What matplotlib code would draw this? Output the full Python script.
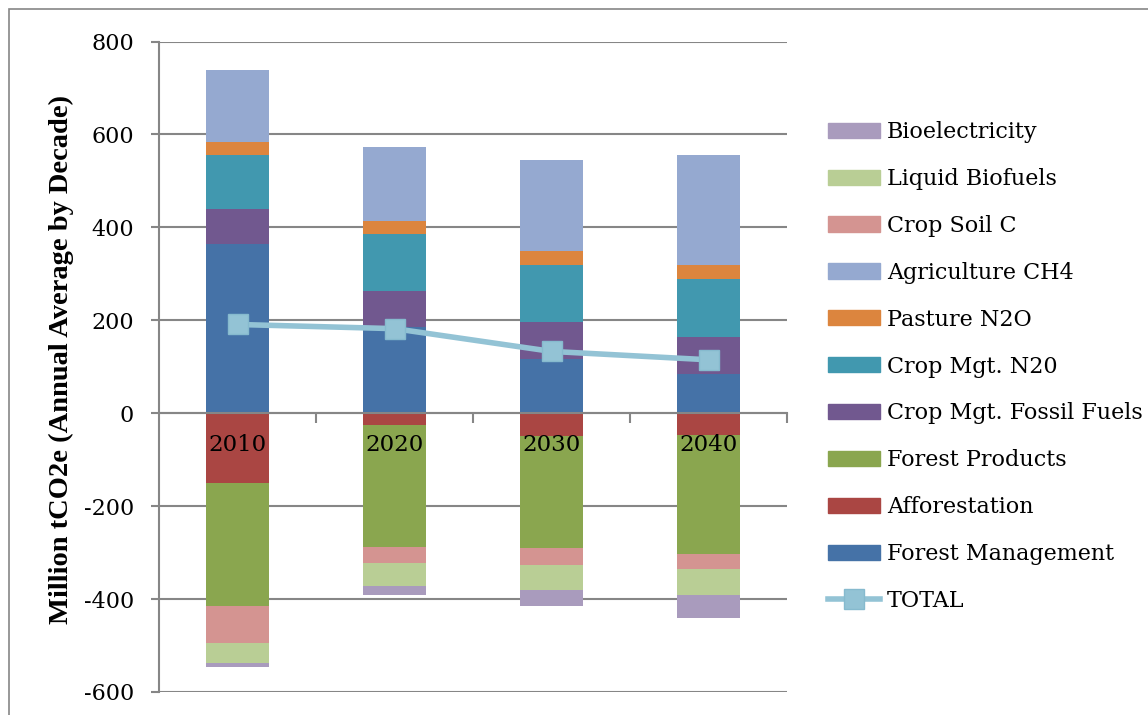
import matplotlib
matplotlib.use("Agg")
import matplotlib.pyplot as plt
import matplotlib.patches as mpatches
from matplotlib.lines import Line2D
import numpy as np

years = ["2010", "2020", "2030", "2040"]

# positive components (stacked upward, bottom to top)
forest_management = [365, 185, 117, 84]
crop_mgt_fossil = [74, 79, 80, 80]
crop_mgt_n20 = [117, 121, 122, 125]
pasture_n2o = [28, 28, 30, 30]
agriculture_ch4 = [154, 160, 196, 237]

# negative components (stacked downward, top to bottom)
afforestation = [-150, -26, -50, -46]
forest_products = [-264, -263, -241, -258]
crop_soil_c = [-80, -33, -36, -32]
liquid_biofuels = [-44, -50, -54, -55]
bioelectricity = [-9, -20, -33, -49]

total = [191, 182, 133, 115]

y_ticks = [-600, -400, -200, 0, 200, 400, 600, 800]

colors = {
    "Bioelectricity": "#A99BBD",
    "Liquid Biofuels": "#B9CE95",
    "Crop Soil C": "#D49491",
    "Agriculture CH4": "#95A9D0",
    "Pasture N2O": "#DC853E",
    "Crop Mgt. N20": "#4198AF",
    "Crop Mgt. Fossil Fuels": "#71588F",
    "Forest Products": "#8AA64F",
    "Afforestation": "#AA4643",
    "Forest Management": "#4572A7",
}
total_color = "#93C3D5"
grid_color = "#868686"

plt.rcParams['font.family'] = ['DejaVu Serif']

fig = plt.figure(figsize=(11.48, 7.15), dpi=100)
ax = fig.add_axes([159/1148, 23/715, 628/1148, 650.5/715])

x = np.arange(len(years))
w = 0.4

pos_series = [
    ("Forest Management", forest_management),
    ("Crop Mgt. Fossil Fuels", crop_mgt_fossil),
    ("Crop Mgt. N20", crop_mgt_n20),
    ("Pasture N2O", pasture_n2o),
    ("Agriculture CH4", agriculture_ch4),
]
neg_series = [
    ("Afforestation", afforestation),
    ("Forest Products", forest_products),
    ("Crop Soil C", crop_soil_c),
    ("Liquid Biofuels", liquid_biofuels),
    ("Bioelectricity", bioelectricity),
]

bottom = np.zeros(len(years))
for name, vals in pos_series:
    ax.bar(x, vals, w, bottom=bottom, color=colors[name], linewidth=0, zorder=2)
    bottom = bottom + np.array(vals)
bottom = np.zeros(len(years))
for name, vals in neg_series:
    ax.bar(x, vals, w, bottom=bottom, color=colors[name], linewidth=0, zorder=2)
    bottom = bottom + np.array(vals)

ax.plot(x, total, color=total_color, linewidth=4, marker='s', markersize=14,
        markerfacecolor=total_color, markeredgecolor="#86BACE", markeredgewidth=1, zorder=4)

ax.set_xlim(-0.5, 3.5)
ax.set_ylim(-600, 800)
ax.set_yticks(y_ticks)
ax.set_yticklabels([str(v) for v in y_ticks], fontsize=16)
ax.yaxis.grid(True, color=grid_color, linewidth=1.5, zorder=0)
ax.set_axisbelow(True)
ax.tick_params(axis='y', length=6, width=1.5, color=grid_color, pad=12)

for s in ['top', 'right']:
    ax.spines[s].set_visible(False)
ax.spines['left'].set_color(grid_color)
ax.spines['left'].set_linewidth(1.5)
ax.spines['bottom'].set_position(('data', 0))
ax.spines['bottom'].set_color(grid_color)
ax.spines['bottom'].set_linewidth(1.5)
ax.spines['bottom'].set_zorder(3)

ax.set_xticks([0.5, 1.5, 2.5, 3.5])
ax.set_xticklabels([])
ax.tick_params(axis='x', length=7, width=1.5, color=grid_color, direction='out')

for xi, yl in zip(x, years):
    ax.text(xi, -45, yl, ha='center', va='top', fontsize=16.5, zorder=5)

ax.set_ylabel("Million tCO2e (Annual Average by Decade)", fontsize=20.5,
              fontweight='bold', family='Liberation Serif')
ax.yaxis.set_label_coords(-0.135, 0.511)

# legend
order = ["Bioelectricity", "Liquid Biofuels", "Crop Soil C", "Agriculture CH4",
         "Pasture N2O", "Crop Mgt. N20", "Crop Mgt. Fossil Fuels",
         "Forest Products", "Afforestation", "Forest Management"]
handles = [mpatches.Patch(color=colors[n], label=n) for n in order]
handles.append(Line2D([], [], color=total_color, linewidth=4, marker='s',
                      markersize=14, markerfacecolor=total_color,
                      markeredgecolor="#86BACE", label="TOTAL"))
fig.legend(handles=handles, loc='center left', bbox_to_anchor=(828/1148, 1 - 366.5/715),
           frameon=False, fontsize=16, borderpad=0, borderaxespad=0,
           handlelength=2.35, handleheight=0.68, handletextpad=0.3, labelspacing=1.12)

# outer chart border
fig.patches.append(mpatches.Rectangle((9/1148, -0.1), 1.2, 1 - 9/715 + 0.1,
                                      transform=fig.transFigure, fill=False,
                                      edgecolor=grid_color, linewidth=1.2))

fig.savefig("out.png", dpi=100)
